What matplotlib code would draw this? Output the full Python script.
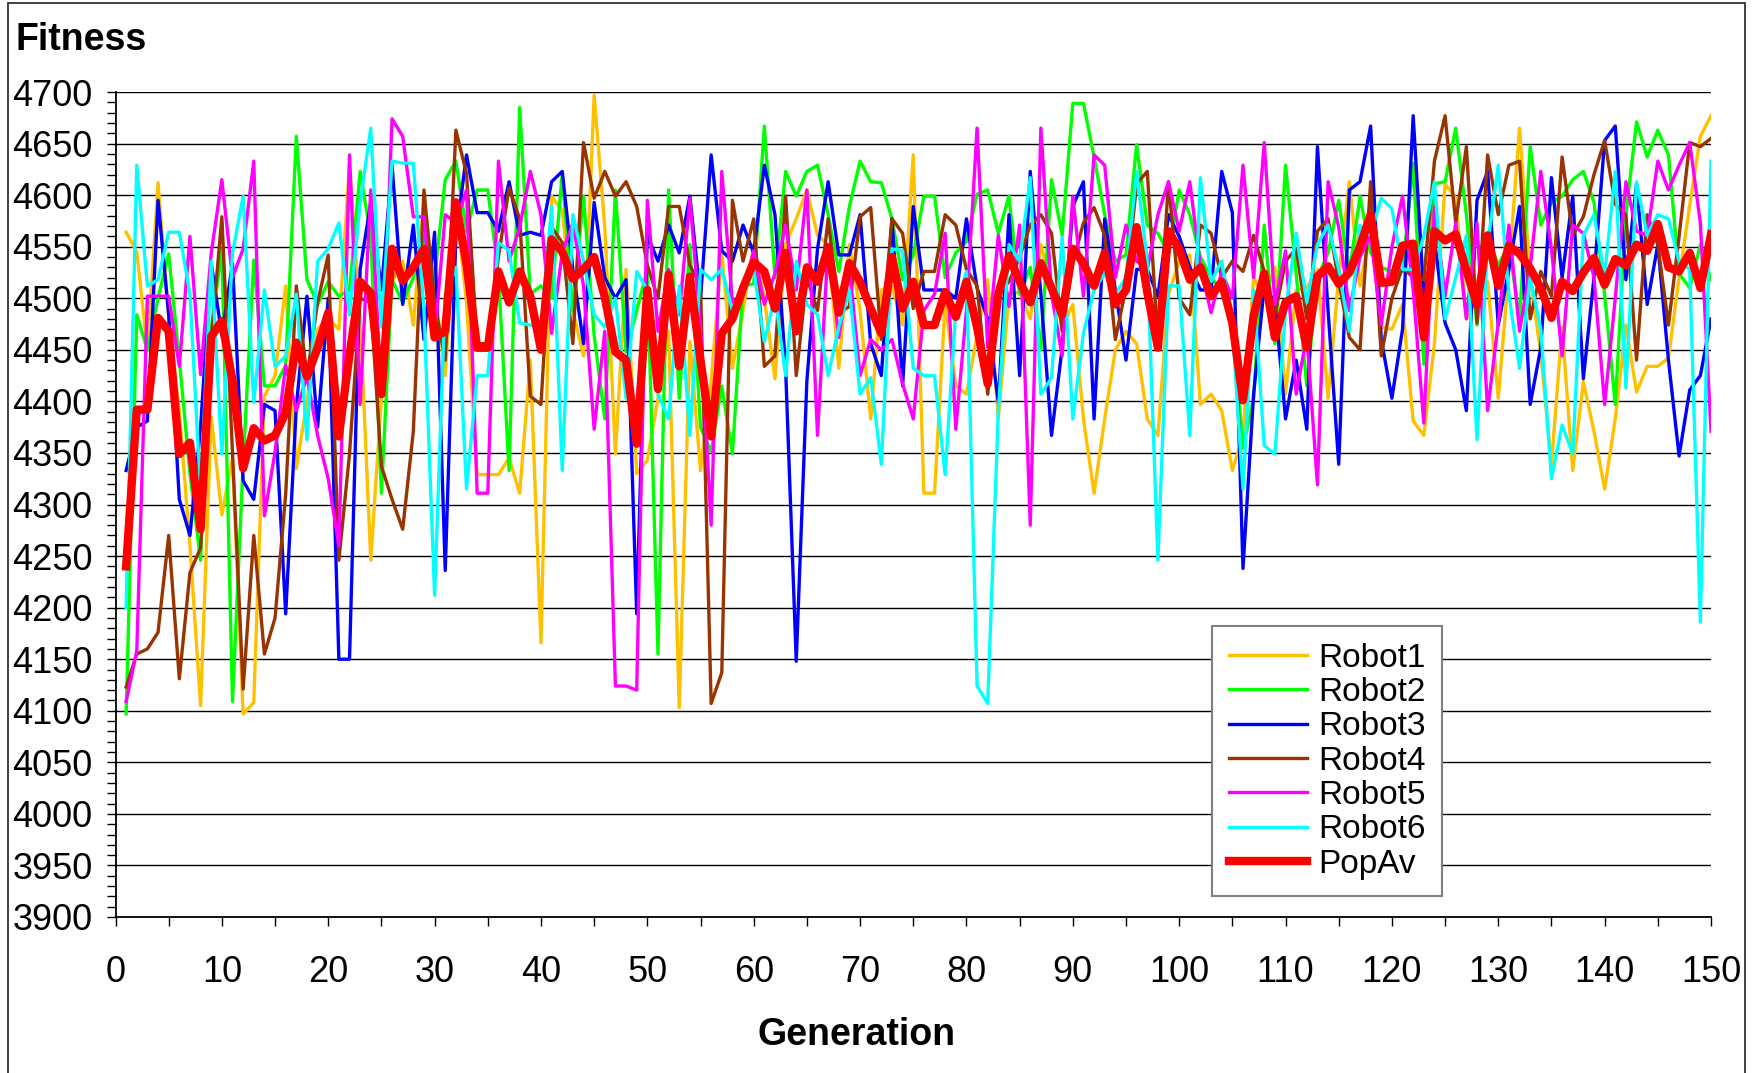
import numpy as np
import matplotlib
matplotlib.use("Agg")
import matplotlib.pyplot as plt
from matplotlib import font_manager
from matplotlib.patches import Rectangle

# pick a narrow sans if there is one, the chart text looks condensed
names = {f.name for f in font_manager.fontManager.ttflist}
font = "Liberation Sans Narrow" if "Liberation Sans Narrow" in names else "Liberation Sans"
plt.rcParams['font.family'] = [font, 'DejaVu Sans']

generations = np.arange(1, 151)

robot1 = [
    4564, 4545, 4450, 4612, 4480, 4390, 4260, 4105, 4385, 4290,
    4345, 4097, 4108, 4405, 4425, 4512, 4335, 4400, 4470, 4480,
    4470, 4630, 4480, 4246, 4403, 4516, 4536, 4474, 4595, 4512,
    4425, 4593, 4496, 4329, 4329, 4329, 4345, 4311, 4440, 4166,
    4599, 4585, 4488, 4444, 4697, 4569, 4349, 4528, 4330, 4343,
    4403, 4468, 4103, 4458, 4333, 4420, 4544, 4432, 4488, 4552,
    4500, 4422, 4552, 4577, 4605, 4561, 4552, 4432, 4552, 4488,
    4383, 4508, 4512, 4474, 4639, 4311, 4311, 4496, 4415, 4407,
    4464, 4518, 4383, 4504, 4506, 4480, 4552, 4512, 4472, 4494,
    4383, 4311, 4383, 4450, 4468, 4456, 4383, 4367, 4504, 4536,
    4542, 4397, 4407, 4391, 4333, 4367, 4520, 4500, 4530, 4407,
    4508, 4510, 4528, 4403, 4520, 4613, 4512, 4565, 4472, 4470,
    4494, 4381, 4367, 4456, 4611, 4597, 4480, 4500, 4516, 4403,
    4528, 4665, 4520, 4446, 4339, 4472, 4333, 4419, 4371, 4315,
    4383, 4474, 4409, 4434, 4434, 4442, 4520, 4590, 4657, 4677]

robot2 = [
    4097, 4484, 4450, 4500, 4543, 4440, 4330, 4246, 4470, 4548,
    4109, 4340, 4537, 4415, 4415, 4435, 4657, 4518, 4494, 4516,
    4502, 4508, 4623, 4560, 4311, 4518, 4496, 4520, 4560, 4520,
    4615, 4633, 4565, 4605, 4605, 4524, 4333, 4685, 4504, 4512,
    4500, 4621, 4488, 4599, 4464, 4383, 4605, 4448, 4488, 4528,
    4155, 4605, 4403, 4552, 4375, 4351, 4415, 4349, 4512, 4514,
    4667, 4520, 4623, 4599, 4623, 4629, 4581, 4526, 4589, 4633,
    4613, 4612, 4577, 4518, 4542, 4599, 4599, 4520, 4544, 4555,
    4601, 4605, 4563, 4599, 4504, 4530, 4450, 4615, 4561, 4689,
    4689, 4637, 4581, 4536, 4542, 4649, 4571, 4563, 4544, 4605,
    4581, 4540, 4520, 4508, 4480, 4355, 4403, 4571, 4456, 4629,
    4524, 4415, 4520, 4544, 4595, 4524, 4599, 4544, 4530, 4526,
    4526, 4631, 4436, 4611, 4613, 4665, 4581, 4474, 4561, 4532,
    4552, 4480, 4647, 4571, 4593, 4599, 4615, 4623, 4593, 4504,
    4397, 4581, 4671, 4637, 4663, 4639, 4524, 4510, 4552, 4518]

robot3 = [
    4333, 4375, 4381, 4595, 4484, 4305, 4270, 4375, 4534, 4464,
    4534, 4323, 4305, 4397, 4391, 4194, 4395, 4502, 4375, 4500,
    4150, 4150, 4528, 4593, 4508, 4629, 4494, 4571, 4460, 4564,
    4236, 4560, 4639, 4583, 4583, 4565, 4613, 4561, 4564, 4561,
    4613, 4623, 4528, 4456, 4593, 4520, 4500, 4518, 4194, 4561,
    4536, 4571, 4544, 4599, 4500, 4639, 4546, 4536, 4571, 4544,
    4629, 4581, 4432, 4148, 4420, 4548, 4613, 4542, 4542, 4581,
    4456, 4425, 4577, 4415, 4589, 4508, 4508, 4508, 4500, 4577,
    4510, 4480, 4399, 4581, 4425, 4623, 4504, 4367, 4452, 4589,
    4613, 4383, 4577, 4508, 4440, 4528, 4528, 4502, 4581, 4560,
    4530, 4508, 4508, 4623, 4583, 4238, 4407, 4512, 4496, 4383,
    4440, 4373, 4647, 4488, 4339, 4605, 4613, 4667, 4460, 4403,
    4470, 4677, 4502, 4556, 4476, 4450, 4391, 4595, 4623, 4474,
    4528, 4589, 4397, 4452, 4617, 4520, 4599, 4422, 4520, 4653,
    4667, 4518, 4611, 4494, 4552, 4440, 4347, 4411, 4425, 4480]

robot4 = [
    4123, 4155, 4160, 4176, 4270, 4131, 4234, 4258, 4460, 4579,
    4350, 4121, 4270, 4155, 4190, 4310, 4512, 4424, 4496, 4542,
    4246, 4349, 4500, 4496, 4337, 4305, 4276, 4371, 4605, 4496,
    4440, 4663, 4621, 4456, 4456, 4540, 4607, 4577, 4405, 4397,
    4569, 4554, 4456, 4651, 4597, 4623, 4599, 4613, 4589, 4532,
    4500, 4589, 4589, 4532, 4512, 4107, 4137, 4595, 4536, 4577,
    4434, 4444, 4599, 4425, 4520, 4488, 4577, 4486, 4492, 4579,
    4588, 4460, 4577, 4563, 4490, 4526, 4526, 4581, 4571, 4528,
    4512, 4407, 4504, 4516, 4540, 4571, 4581, 4563, 4468, 4534,
    4573, 4588, 4561, 4460, 4510, 4611, 4623, 4456, 4613, 4500,
    4484, 4571, 4563, 4520, 4536, 4526, 4561, 4526, 4484, 4536,
    4548, 4480, 4565, 4577, 4516, 4462, 4450, 4613, 4444, 4500,
    4530, 4520, 4518, 4633, 4677, 4573, 4647, 4476, 4639, 4581,
    4629, 4633, 4480, 4526, 4502, 4637, 4561, 4579, 4620, 4653,
    4591, 4581, 4440, 4581, 4552, 4474, 4560, 4651, 4647, 4655]

robot5 = [
    4109, 4158, 4502, 4502, 4502, 4434, 4560, 4426, 4544, 4615,
    4520, 4548, 4633, 4289, 4351, 4435, 4391, 4424, 4367, 4325,
    4260, 4639, 4397, 4605, 4407, 4674, 4657, 4579, 4579, 4462,
    4581, 4573, 4605, 4311, 4311, 4633, 4536, 4569, 4623, 4581,
    4466, 4544, 4573, 4512, 4373, 4468, 4124, 4124, 4120, 4595,
    4468, 4528, 4484, 4597, 4472, 4280, 4623, 4496, 4504, 4546,
    4494, 4524, 4571, 4508, 4605, 4367, 4552, 4462, 4530, 4425,
    4460, 4450, 4460, 4417, 4383, 4488, 4504, 4563, 4373, 4488,
    4665, 4452, 4561, 4492, 4571, 4280, 4665, 4504, 4444, 4599,
    4502, 4639, 4629, 4520, 4571, 4536, 4528, 4581, 4613, 4565,
    4613, 4530, 4486, 4526, 4500, 4629, 4520, 4651, 4494, 4546,
    4407, 4464, 4319, 4613, 4569, 4488, 4540, 4561, 4474, 4550,
    4599, 4508, 4379, 4589, 4502, 4573, 4480, 4573, 4391, 4476,
    4571, 4468, 4530, 4623, 4548, 4444, 4571, 4563, 4520, 4397,
    4500, 4613, 4565, 4561, 4633, 4605, 4629, 4651, 4573, 4371]

robot6 = [
    4200, 4629, 4512, 4518, 4564, 4564, 4504, 4311, 4536, 4349,
    4544, 4599, 4399, 4508, 4434, 4444, 4504, 4363, 4536, 4548,
    4573, 4484, 4593, 4665, 4472, 4633, 4631, 4631, 4488, 4212,
    4504, 4530, 4315, 4425, 4425, 4554, 4546, 4476, 4474, 4472,
    4589, 4333, 4581, 4536, 4484, 4472, 4500, 4403, 4526, 4508,
    4407, 4383, 4512, 4367, 4528, 4518, 4528, 4488, 4504, 4528,
    4458, 4502, 4425, 4536, 4494, 4484, 4425, 4472, 4508, 4407,
    4423, 4339, 4548, 4546, 4432, 4425, 4425, 4329, 4488, 4526,
    4124, 4107, 4391, 4552, 4536, 4617, 4407, 4423, 4559, 4383,
    4466, 4508, 4524, 4504, 4520, 4623, 4536, 4246, 4512, 4512,
    4367, 4617, 4516, 4536, 4472, 4315, 4508, 4357, 4349, 4488,
    4563, 4496, 4552, 4571, 4528, 4468, 4571, 4561, 4597, 4587,
    4528, 4528, 4560, 4613, 4480, 4520, 4561, 4363, 4552, 4629,
    4504, 4432, 4520, 4470, 4325, 4377, 4349, 4561, 4581, 4522,
    4623, 4413, 4613, 4561, 4581, 4577, 4536, 4528, 4186, 4633]

pop_av = [
    4240, 4392, 4392, 4481, 4468, 4349, 4360, 4276, 4463, 4478,
    4420, 4335, 4374, 4362, 4367, 4389, 4457, 4424, 4452, 4486,
    4366, 4445, 4516, 4505, 4407, 4548, 4517, 4530, 4548, 4462,
    4468, 4593, 4533, 4452, 4452, 4526, 4496, 4526, 4502, 4450,
    4557, 4545, 4519, 4528, 4540, 4501, 4448, 4440, 4359, 4508,
    4412, 4523, 4434, 4521, 4440, 4366, 4466, 4480, 4510, 4535,
    4526, 4490, 4544, 4468, 4530, 4516, 4549, 4486, 4534, 4516,
    4490, 4466, 4540, 4490, 4516, 4474, 4474, 4506, 4482, 4516,
    4472, 4417, 4504, 4541, 4516, 4496, 4534, 4510, 4484, 4548,
    4534, 4512, 4544, 4494, 4508, 4569, 4506, 4452, 4565, 4548,
    4518, 4530, 4502, 4516, 4476, 4401, 4483, 4524, 4462, 4496,
    4502, 4452, 4521, 4531, 4514, 4525, 4550, 4581, 4515, 4516,
    4551, 4553, 4462, 4565, 4556, 4562, 4527, 4494, 4561, 4512,
    4551, 4543, 4529, 4510, 4481, 4516, 4507, 4525, 4539, 4513,
    4538, 4532, 4552, 4546, 4572, 4530, 4526, 4544, 4510, 4562]

series_names = ["Robot1", "Robot2", "Robot3", "Robot4", "Robot5", "Robot6"]
series_values = [robot1, robot2, robot3, robot4, robot5, robot6]
series_colors = ["#FFC000", "#00FF00", "#0000FF", "#993300", "#FF00FF", "#00FFFF"]

fig = plt.figure(figsize=(17.58, 10.73), dpi=100)
ax = fig.add_axes([115.5 / 1758, 1 - 917 / 1073, (1711 - 115.5) / 1758, (917 - 92) / 1073])

for name, vals, col in zip(series_names, series_values, series_colors):
    ax.plot(generations, vals, color=col, lw=2.4, label=name)
ax.plot(generations, pop_av, color="#FF0000", lw=6, label="PopAv")

ax.set_xlim(0, 150)
ax.set_ylim(3900, 4700)
ax.set_xticks(np.arange(0, 151, 10))
ax.set_xticks(np.arange(0, 151, 5), minor=True)
ax.set_yticks(np.arange(3900, 4701, 50))
ax.set_yticks(np.arange(3900, 4701, 10), minor=True)

ax.yaxis.grid(True, which="major", color="black", lw=1.0)
ax.set_axisbelow(True)
for s in ["top", "right"]:
    ax.spines[s].set_visible(False)
for s in ["left", "bottom"]:
    ax.spines[s].set_linewidth(1.3)
    ax.spines[s].set_color("black")

ax.tick_params(axis="both", which="both", direction="out", length=6.5, width=1.0, color="black")
ax.tick_params(axis="y", labelsize=26, pad=10)
ax.tick_params(axis="x", labelsize=26, pad=21)

fig.text(16 / 1758, 1 - 50 / 1073, "Fitness", fontsize=27, fontweight="bold", va="baseline", ha="left")
fig.text(857 / 1758, 1 - 1045 / 1073, "Generation", fontsize=27, fontweight="bold", va="baseline", ha="center")

leg = ax.legend(loc="upper left", bbox_to_anchor=(1212 / 1758, 1 - 626 / 1073),
                bbox_transform=fig.transFigure, fontsize=24, frameon=True, fancybox=False,
                edgecolor="#808080", framealpha=1, borderaxespad=0, borderpad=0.5,
                handlelength=2.35, handletextpad=0.33, labelspacing=0.1)
leg.get_frame().set_linewidth(1.5)

# outer chart border (bottom edge is cut off in the original)
fig.patches.append(Rectangle((8 / 1758, -0.05), (1745 - 8) / 1758, 1.05 - 3 / 1073,
                             transform=fig.transFigure, fill=False,
                             edgecolor="#333333", lw=1.3))

fig.savefig("out.png", dpi=100)
